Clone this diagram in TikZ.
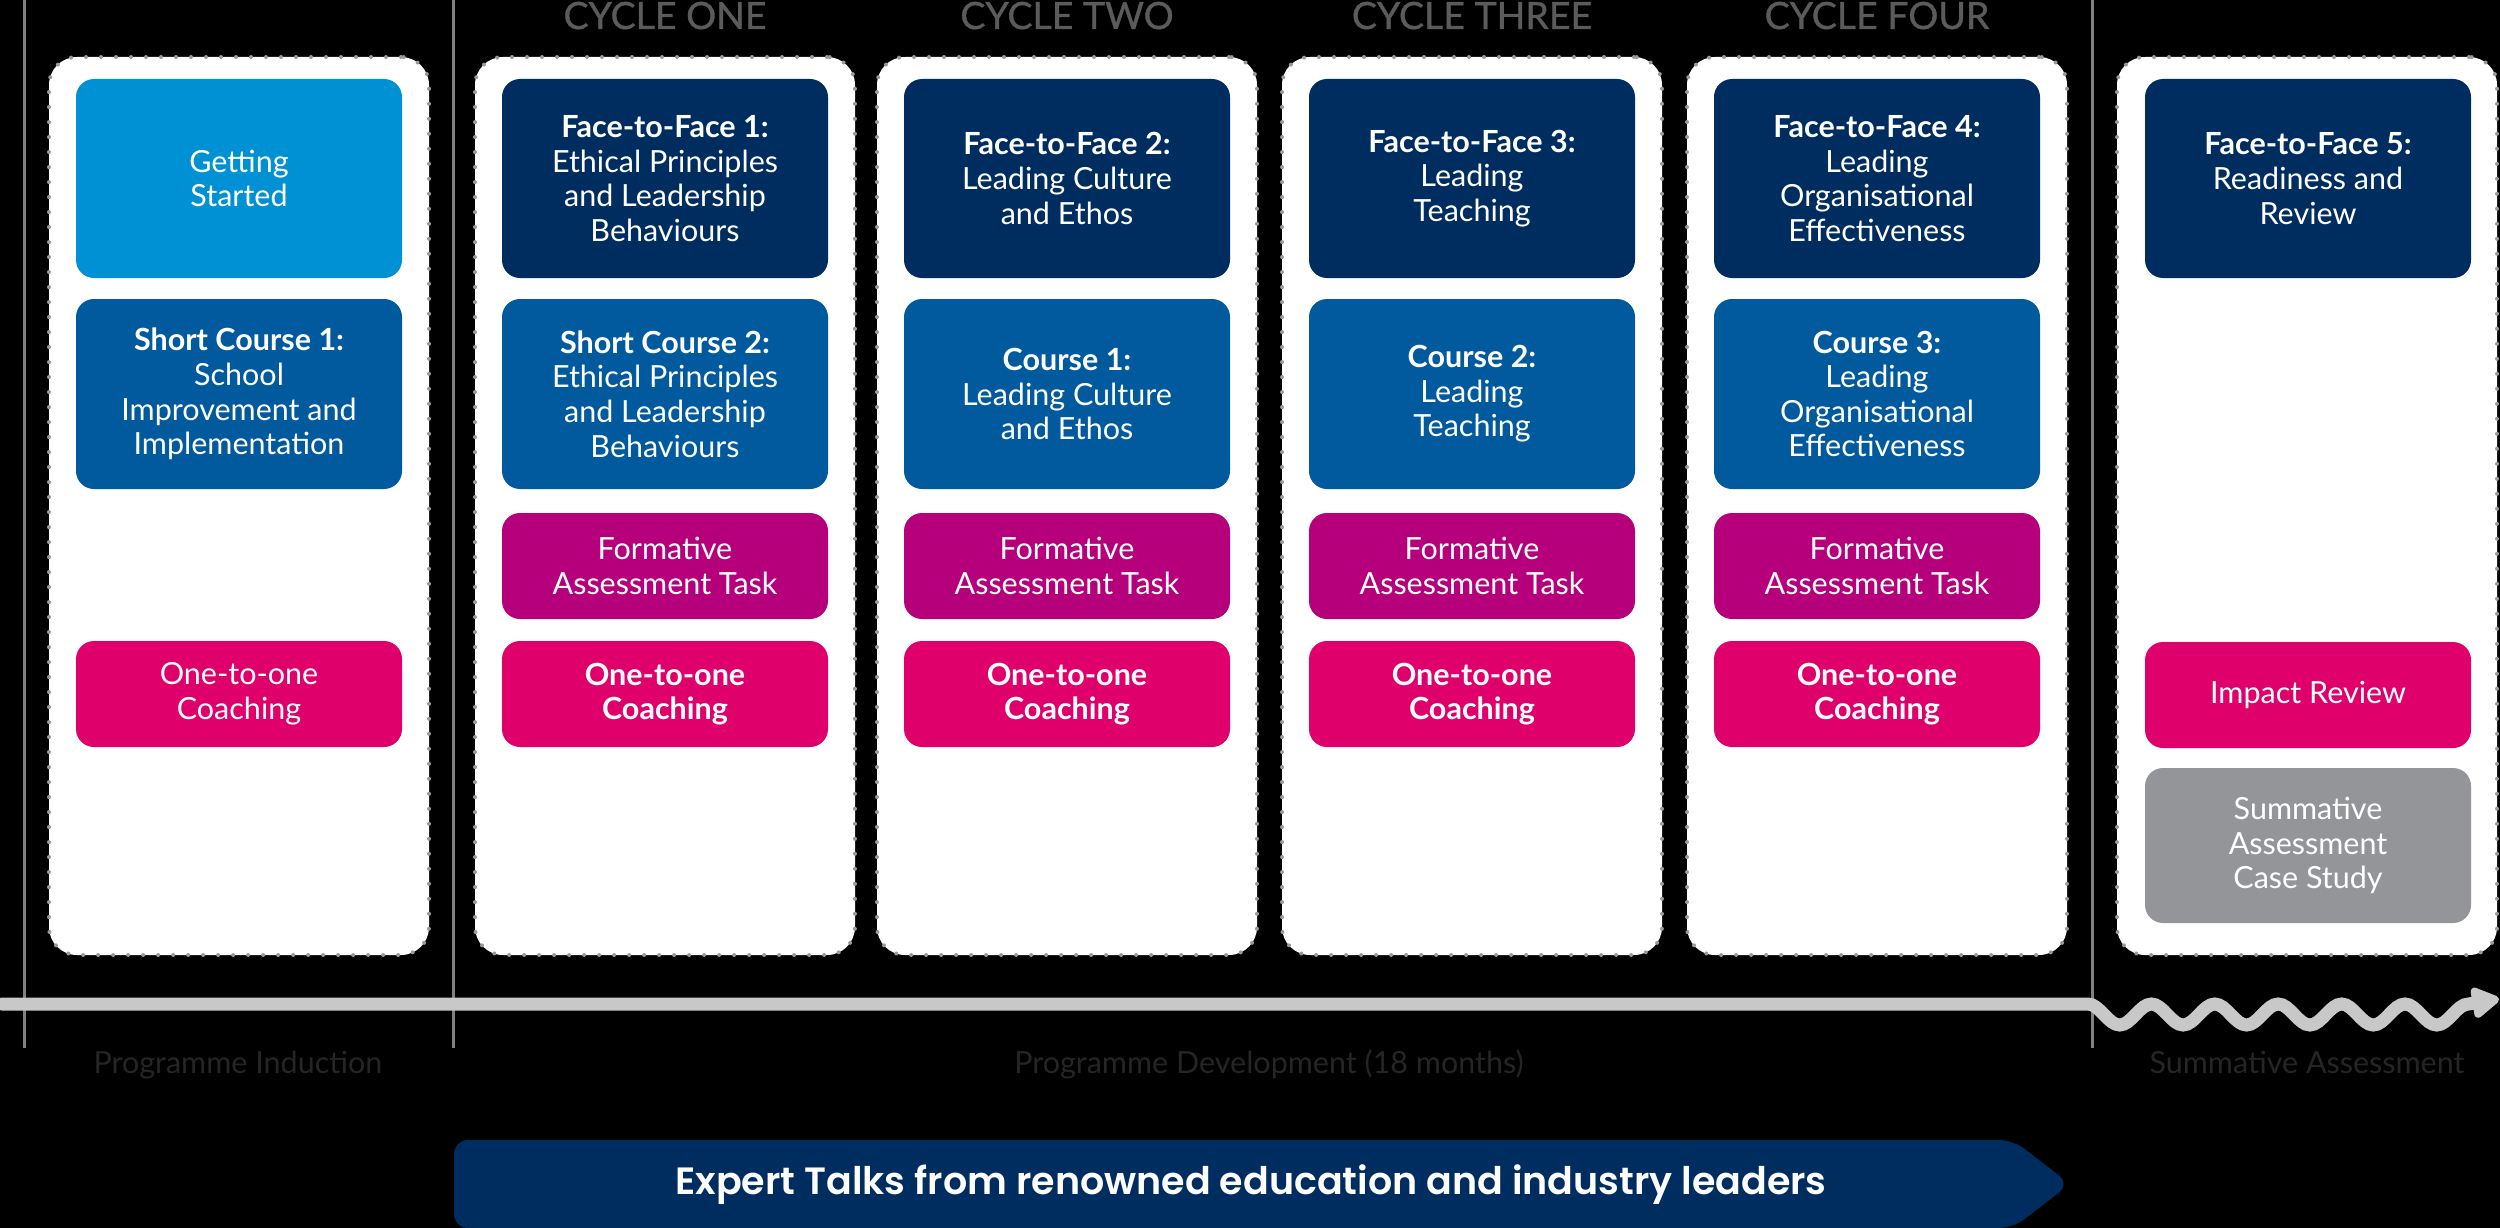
\documentclass[tikz,border=0pt]{standalone}
\usepackage{fontspec}
\setmainfont{Lato}
\newfontfamily\expertfont{Poppins}[UprightFont=* SemiBold]
\newfontfamily\cyclefont{Lato}[FakeBold=0.9]
\usetikzlibrary{arrows.meta}
\definecolor{navy}{HTML}{002D5F}
\definecolor{midblue}{HTML}{005A9D}
\definecolor{lightblue}{HTML}{0091D4}
\definecolor{formcol}{HTML}{B6007B}
\definecolor{coachcol}{HTML}{E0006B}
\definecolor{summgray}{HTML}{939598}
\definecolor{cyclegray}{HTML}{5B5B5D}
\definecolor{labelgray}{HTML}{252525}
\definecolor{dotgray}{HTML}{9A9A9A}
\definecolor{linegray}{HTML}{808080}
\definecolor{tlgray}{HTML}{C8C8C8}
\tikzset{
  colbox/.style={fill=white, draw=dotgray, line width=4pt, dash pattern=on 0pt off 15pt,
    line cap=round, rounded corners=28pt, minimum width=380pt, minimum height=898pt, inner sep=0pt},
  boxbase/.style={rounded corners=18pt, minimum width=326pt, inner sep=0pt, align=center,
    text=white, font=\fontsize{30.5}{34.6}\selectfont},
  f2f/.style={boxbase, fill=navy, minimum height=199pt},
  startbox/.style={boxbase, fill=lightblue, minimum height=199pt},
  course/.style={boxbase, fill=midblue, minimum height=190pt},
  formbox/.style={boxbase, fill=formcol, minimum height=106pt},
  coachbox/.style={boxbase, fill=coachcol, minimum height=106pt},
  summbox/.style={boxbase, fill=summgray, minimum height=155pt},
  cyclelabel/.style={anchor=base, text=cyclegray, font=\cyclefont\fontsize{37.5}{42}\selectfont, inner sep=0pt},
  phaselabel/.style={anchor=base, text=labelgray, font=\fontsize{30.5}{36}\selectfont, inner sep=0pt},
  divider/.style={draw=linegray, line width=3pt},
  timeline/.style={draw=tlgray, line width=13pt, line cap=round},
}
\begin{document}
\begin{tikzpicture}[x=1pt,y=-1pt]
\fill[black] (0,0) rectangle (2500,1228);
\useasboundingbox (0,0) rectangle (2500,1228);

% dividers
\coordinate (d1t) at (24,0);    \coordinate (d1b) at (24,1048);
\coordinate (d2t) at (453,0);   \coordinate (d2b) at (453,1048);
\coordinate (d3t) at (2092,0);  \coordinate (d3b) at (2092,1048);
\draw[divider] (d1t) -- (d1b);
\draw[divider] (d2t) -- (d2b);
\draw[divider] (d3t) -- (d3b);

% timeline
\coordinate (tls) at (2,1004);
\coordinate (tlw) at (2088,1004);
\coordinate (tle) at (2499,999);
\draw[timeline, -{Triangle[length=31pt,width=34pt,round]}] (tls) -- (tlw)
  cos (2103.85,1014.5) sin (2119.7,1025)
  cos (2135.55,1014.5) sin (2151.4,1004)
  cos (2167.25,1014.5) sin (2183.1,1025)
  cos (2198.95,1014.5) sin (2214.8,1004)
  cos (2230.65,1014.5) sin (2246.5,1025)
  cos (2262.35,1014.5) sin (2278.2,1004)
  cos (2294.05,1014.5) sin (2309.9,1025)
  cos (2325.75,1014.5) sin (2341.6,1004)
  cos (2357.45,1014.5) sin (2373.3,1025)
  cos (2389.15,1014.5) sin (2405.0,1004)
  cos (2420.85,1014.5) sin (2436.7,1025)
  cos (2452.55,1014.5) sin (2468.4,1004)
  -- (tle);

% columns
\node[colbox] (col1) at (239,506) {};
\node[colbox] (col2) at (665,506) {};
\node[colbox] (col3) at (1067,506) {};
\node[colbox] (col4) at (1472,506) {};
\node[colbox] (col5) at (1877,506) {};
\node[colbox] (col6) at (2307,506) {};

% cycle labels
\node[cyclelabel] (cy1) at (665,29) {CYCLE ONE};
\node[cyclelabel] (cy2) at (1067,29) {CYCLE TWO};
\node[cyclelabel] (cy3) at (1472,29) {CYCLE THREE};
\node[cyclelabel] (cy4) at (1877,29) {CYCLE FOUR};

% column 1
\node[startbox] (gs) at (239,178.5) {Getting\\Started};
\node[course] (sc1) at (239,394) {\textbf{Short Course 1:}\\School\\Improvement and\\Implementation};
\node[coachbox] (co1) at (239,694) {One-to-one\\Coaching};

% column 2
\node[f2f] (ff1) at (665,178.5) {\textbf{Face-to-Face 1:}\\Ethical Principles\\and Leadership\\Behaviours};
\node[course] (sc2) at (665,394) {\textbf{Short Course 2:}\\Ethical Principles\\and Leadership\\Behaviours};
\node[formbox] (fa1) at (665,566) {Formative\\Assessment Task};
\node[coachbox] (co2) at (665,694) {\textbf{One-to-one}\\\textbf{Coaching}};

% column 3
\node[f2f] (ff2) at (1067,178.5) {\textbf{Face-to-Face 2:}\\Leading Culture\\and Ethos};
\node[course] (cs1) at (1067,394) {\textbf{Course 1:}\\Leading Culture\\and Ethos};
\node[formbox] (fa2) at (1067,566) {Formative\\Assessment Task};
\node[coachbox] (co3) at (1067,694) {\textbf{One-to-one}\\\textbf{Coaching}};

% column 4
\node[f2f] (ff3) at (1472,178.5) {\textbf{Face-to-Face 3:}\\Leading\\Teaching};
\node[course] (cs2) at (1472,394) {\textbf{Course 2:}\\Leading\\Teaching};
\node[formbox] (fa3) at (1472,566) {Formative\\Assessment Task};
\node[coachbox] (co4) at (1472,694) {\textbf{One-to-one}\\\textbf{Coaching}};

% column 5
\node[f2f] (ff4) at (1877,178.5) {\textbf{Face-to-Face 4:}\\Leading\\Organisational\\Effectiveness};
\node[course] (cs3) at (1877,394) {\textbf{Course 3:}\\Leading\\Organisational\\Effectiveness};
\node[formbox] (fa4) at (1877,566) {Formative\\Assessment Task};
\node[coachbox] (co5) at (1877,694) {\textbf{One-to-one}\\\textbf{Coaching}};

% column 6
\node[f2f] (ff5) at (2308,178.5) {\textbf{Face-to-Face 5:}\\Readiness and\\Review};
\node[coachbox] (ir) at (2308,695) {Impact Review};
\node[summbox] (sa) at (2308,845.5) {Summative\\Assessment\\Case Study};

% phase labels
\node[phaselabel] (ph1) at (238,1073) {Programme Induction};
\node[phaselabel] (ph2) at (1269,1073) {Programme Development (18 months)};
\node[phaselabel] (ph3) at (2307,1073) {Summative Assessment};

% expert talks banner
\fill[navy, rounded corners=14pt] (454,1140) -- (2013,1140) -- (2070,1184) -- (2013,1228) -- (454,1228) -- cycle;
\node[text=white, font=\expertfont\fontsize{38}{44}\selectfont, inner sep=0pt] (talks) at (1251,1185)
  {Expert Talks from renowned education and industry leaders};
\end{tikzpicture}
\end{document}
